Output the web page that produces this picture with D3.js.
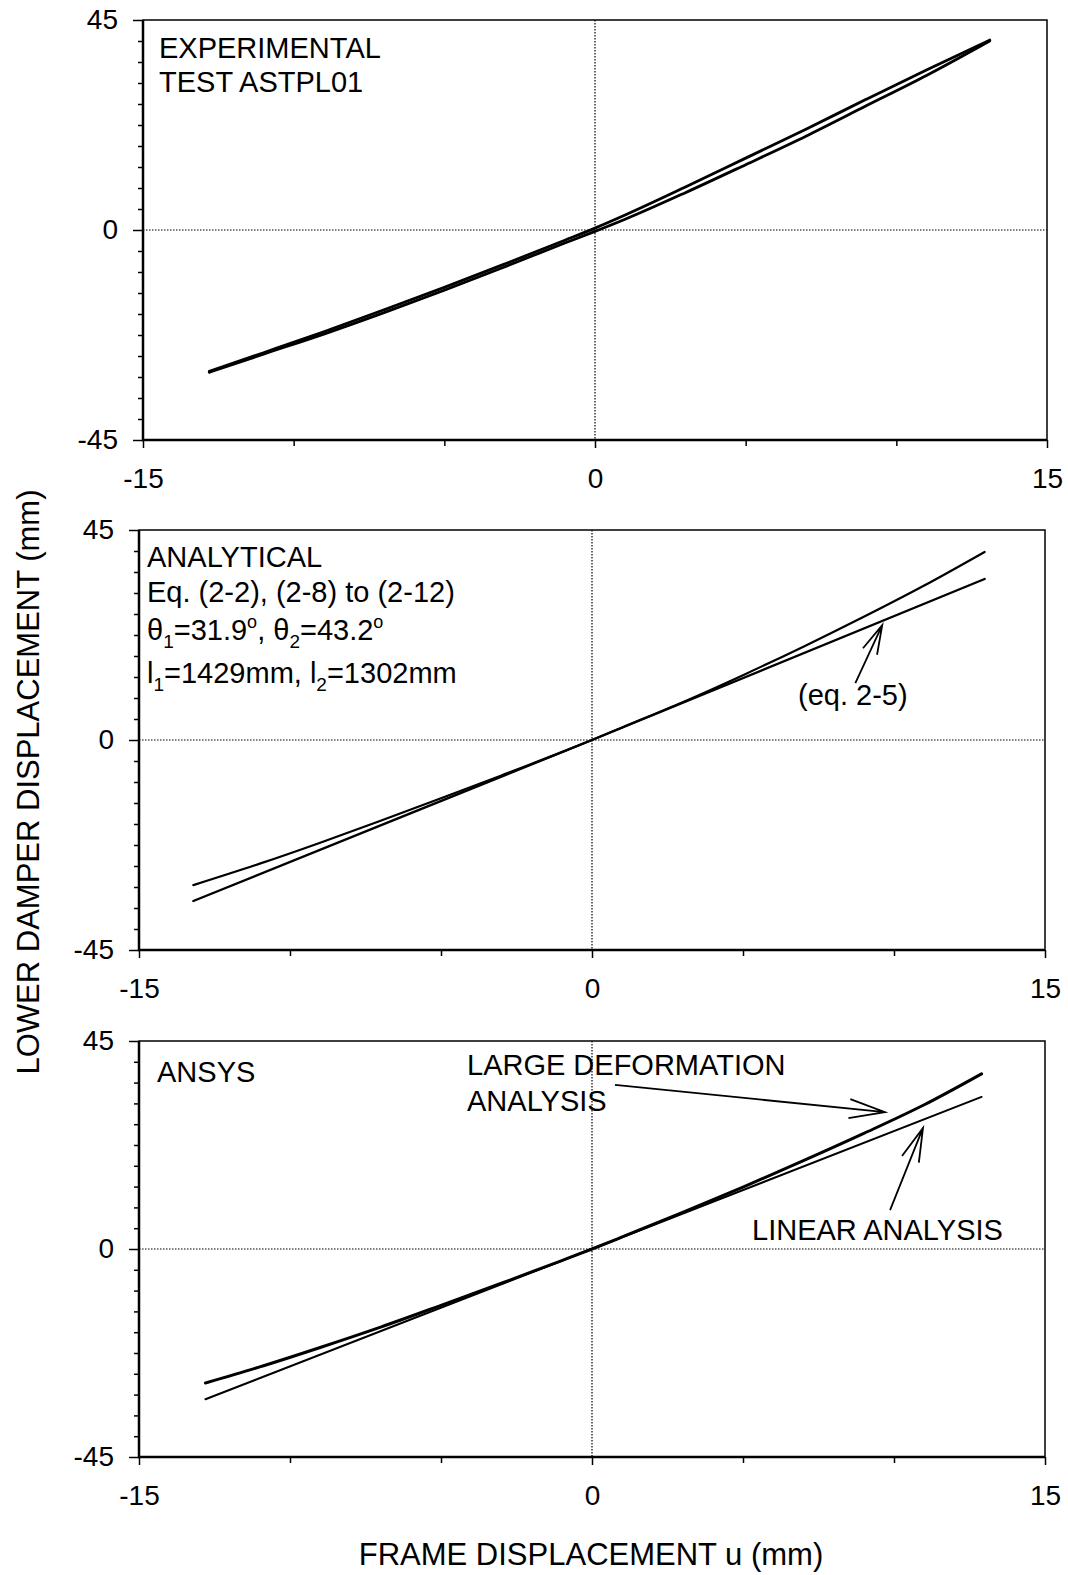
<!DOCTYPE html>
<html>
<head>
<meta charset="utf-8">
<script src="https://cdn.jsdelivr.net/npm/d3@7"></script>
<style>
  body { margin: 0; background: #fff; }
  text { font-family: "Liberation Sans", Arial, sans-serif; fill: #000; }
</style>
</head>
<body>
<script>
const width = 1068;
const height = 1575;

// axis ranges and labels (same in all three panels)
const xDomain = [-15, 15];
const yDomain = [-45, 45];
const xTicks = [-15, 0, 15];
const yTicks = [-45, 0, 45];
const xMinor = [-10, -5, 5, 10];
const yMinor = [-40.5, -36, -31.5, -27, -22.5, -18, -13.5, -9, -4.5, 4.5, 9, 13.5, 18, 22.5, 27, 31.5, 36, 40.5];

// experimental test ASTPL01 (hysteresis loop, two branches)
const expU     = [-12.8, -11, -9, -7, -5, -3, -1, 0, 1, 3, 5, 7, 9, 11, 13.1];
const expUpper = [-30.3, -26.3, -21.8, -17.1, -12.3, -7.3, -2.2, 0.4, 3.2, 9.2, 15.4, 21.6, 28.0, 34.3, 40.7];
const expLower = [-30.5, -26.6, -22.3, -17.7, -12.9, -7.9, -2.8, -0.3, 2.3, 8.0, 14.0, 20.1, 26.6, 33.1, 40.5];

// analytical
const anaU         = [-13.2, -11, -9, -7, -5, -3, -1, 0, 1, 3, 5, 7, 9, 11, 13.0];
const anaNonlinear = [-31.1, -26.5, -22.0, -17.3, -12.5, -7.6, -2.6, 0, 2.7, 8.1, 13.9, 20.0, 26.4, 33.1, 40.3];
const anaLinU      = [-13.2, 0, 13.0];
const anaLinear    = [-34.5, 0, 34.5];   // eq. 2-5

// ANSYS
const ansU       = [-12.8, -11, -9, -7, -5, -3, -1, 0, 1, 3, 5, 7, 9, 11, 12.9];
const ansLarge   = [-29.0, -25.5, -21.3, -16.9, -12.2, -7.4, -2.5, 0, 2.6, 7.9, 13.4, 19.1, 25.0, 31.2, 37.9];
const ansLinU    = [-12.8, 0, 12.9];
const ansLinear  = [-32.5, 0, 32.9];

const svg = d3.select('body')
              .append('svg')
              .attr('width', width)
              .attr('height', height);

svg.append('rect').attr('width', width).attr('height', height).attr('fill', 'white');

const panels = [
  {left: 143, right: 1047, top: 20,   bottom: 440},
  {left: 139, right: 1045, top: 530,  bottom: 950},
  {left: 139, right: 1045, top: 1041, bottom: 1457}
];

const drawPanel = (p) => {
  const x = d3.scaleLinear().domain(xDomain).range([p.left, p.right]);
  const y = d3.scaleLinear().domain(yDomain).range([p.bottom, p.top]);
  const g = svg.append('g');

  // dotted zero lines
  g.append('line')
    .attr('x1', x(0)).attr('x2', x(0)).attr('y1', p.top).attr('y2', p.bottom)
    .attr('stroke', '#000').attr('stroke-width', 1.2).attr('stroke-dasharray', '1.5,1.5');
  g.append('line')
    .attr('x1', p.left).attr('x2', p.right).attr('y1', y(0)).attr('y2', y(0))
    .attr('stroke', '#000').attr('stroke-width', 1.2).attr('stroke-dasharray', '1.5,1.5');

  // minor ticks
  g.append('g')
    .attr('transform', `translate(${p.left},0)`)
    .call(d3.axisLeft(y).tickValues(yMinor).tickSize(5).tickFormat(''))
    .call(a => a.select('.domain').remove())
    .selectAll('line').attr('stroke-width', 1.5);
  g.append('g')
    .attr('transform', `translate(0,${p.bottom})`)
    .call(d3.axisBottom(x).tickValues(xMinor).tickSize(6).tickFormat(''))
    .call(a => a.select('.domain').remove())
    .selectAll('line').attr('stroke-width', 1.5);

  // major ticks with labels (plain hyphen for negatives, as in the original)
  const fmt = d => String(d);
  const ya = g.append('g')
    .attr('transform', `translate(${p.left},0)`)
    .call(d3.axisLeft(y).tickValues(yTicks).tickSize(10).tickPadding(15).tickFormat(fmt));
  ya.select('.domain').remove();
  ya.selectAll('line').attr('stroke-width', 1.5);
  ya.selectAll('text').attr('font-size', 28).attr('font-family', '"Liberation Sans", Arial, sans-serif');

  const xa = g.append('g')
    .attr('transform', `translate(0,${p.bottom})`)
    .call(d3.axisBottom(x).tickValues(xTicks).tickSize(8).tickPadding(20).tickFormat(fmt));
  xa.select('.domain').remove();
  xa.selectAll('line').attr('stroke-width', 1.5);
  xa.selectAll('text').attr('font-size', 28).attr('font-family', '"Liberation Sans", Arial, sans-serif');

  // frame
  g.append('rect')
    .attr('x', p.left).attr('y', p.top)
    .attr('width', p.right - p.left).attr('height', p.bottom - p.top)
    .attr('fill', 'none').attr('stroke', '#000').attr('stroke-width', 1.5);
  g.append('path')
    .attr('d', `M${p.left},${p.top}V${p.bottom}H${p.right}`)
    .attr('fill', 'none').attr('stroke', '#000').attr('stroke-width', 2.5);

  return {x, y, g};
};

const curve = (sel, x, y, us, vs, w) => {
  const line = d3.line()
    .x(d => x(d[0]))
    .y(d => y(d[1]))
    .curve(d3.curveMonotoneX);
  sel.append('path')
    .datum(us.map((u, i) => [u, vs[i]]))
    .attr('d', line)
    .attr('fill', 'none')
    .attr('stroke', '#000')
    .attr('stroke-width', w)
    .attr('stroke-linecap', 'round');
};

const arrow = (sel, x, y, tail, tip, len) => {
  const x0 = x(tail[0]), y0 = y(tail[1]);
  const x1 = x(tip[0]), y1 = y(tip[1]);
  const ang = Math.atan2(y0 - y1, x0 - x1);
  const a = 15 * Math.PI / 180;
  const path = d3.path();
  path.moveTo(x0, y0); path.lineTo(x1, y1);
  path.moveTo(x1 + len * Math.cos(ang + a), y1 + len * Math.sin(ang + a));
  path.lineTo(x1, y1);
  path.lineTo(x1 + len * Math.cos(ang - a), y1 + len * Math.sin(ang - a));
  sel.append('path').attr('d', path.toString())
    .attr('fill', 'none').attr('stroke', '#000').attr('stroke-width', 1.8);
};

const label = (sel, x, y, txt, size) =>
  sel.append('text').attr('x', x).attr('y', y).attr('font-size', size || 29).text(txt);

// panel 1: experimental
{
  const {x, y, g} = drawPanel(panels[0]);
  curve(g, x, y, expU, expUpper, 2.8);
  curve(g, x, y, expU, expLower, 2.8);
  label(g, 159, 58, 'EXPERIMENTAL');
  label(g, 159, 92, 'TEST ASTPL01');
}

// panel 2: analytical
{
  const {x, y, g} = drawPanel(panels[1]);
  curve(g, x, y, anaU, anaNonlinear, 2.2);
  curve(g, x, y, anaLinU, anaLinear, 2.4);
  label(g, 147, 567, 'ANALYTICAL');
  label(g, 147, 602, 'Eq. (2-2), (2-8) to (2-12)');

  const t1 = g.append('text').attr('x', 147).attr('y', 640).attr('font-size', 29);
  t1.append('tspan').text('θ');
  t1.append('tspan').attr('font-size', 19).attr('dy', 8).text('1');
  t1.append('tspan').attr('dy', -8).text('=31.9');
  t1.append('tspan').attr('font-size', 18).attr('dy', -12).text('o');
  t1.append('tspan').attr('dy', 12).text(', θ');
  t1.append('tspan').attr('font-size', 19).attr('dy', 8).text('2');
  t1.append('tspan').attr('dy', -8).text('=43.2');
  t1.append('tspan').attr('font-size', 18).attr('dy', -12).text('o');

  const t2 = g.append('text').attr('x', 147).attr('y', 683).attr('font-size', 29);
  t2.append('tspan').text('l');
  t2.append('tspan').attr('font-size', 19).attr('dy', 8).text('1');
  t2.append('tspan').attr('dy', -8).text('=1429mm, l');
  t2.append('tspan').attr('font-size', 19).attr('dy', 8).text('2');
  t2.append('tspan').attr('dy', -8).text('=1302mm');

  label(g, 798, 705, '(eq. 2-5)');
  arrow(g, x, y, [8.72, 12.2], [9.61, 24.6], 30);
}

// panel 3: ANSYS
{
  const {x, y, g} = drawPanel(panels[2]);
  curve(g, x, y, ansU, ansLarge, 3);
  curve(g, x, y, ansLinU, ansLinear, 2);
  label(g, 157, 1082, 'ANSYS');
  label(g, 467, 1075, 'LARGE DEFORMATION');
  label(g, 467, 1111, 'ANALYSIS');
  label(g, 752, 1240, 'LINEAR ANALYSIS');
  arrow(g, x, y, [0.76, 35.5], [9.70, 29.6], 37);
  arrow(g, x, y, [9.87, 8.4], [10.96, 26.2], 35);
}

// axis titles
svg.append('text')
  .attr('x', 591).attr('y', 1565)
  .attr('text-anchor', 'middle')
  .attr('font-size', 31)
  .text('FRAME DISPLACEMENT u (mm)');

svg.append('text')
  .attr('transform', 'translate(28,782) rotate(-90)')
  .attr('text-anchor', 'middle')
  .attr('dominant-baseline', 'central')
  .attr('font-size', 31)
  .text('LOWER DAMPER DISPLACEMENT (mm)');
</script>
</body>
</html>
